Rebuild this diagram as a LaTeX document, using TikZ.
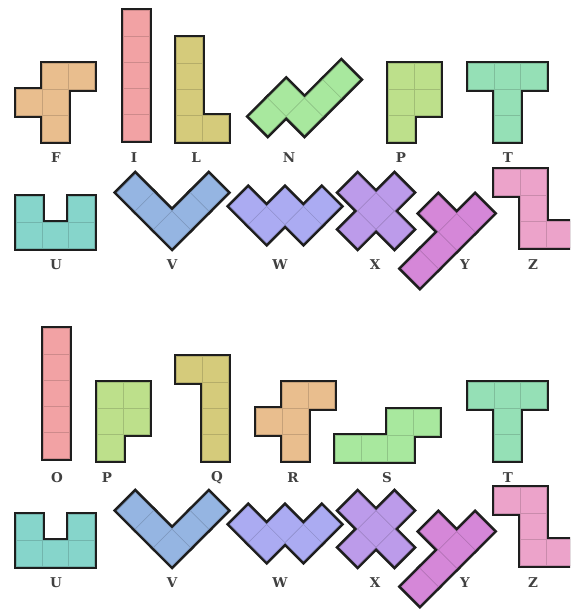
\documentclass[tikz,border=0pt]{standalone}
\usepackage{fontspec}
\setmainfont{DejaVu Serif}

\definecolor{coulF}{HTML}{E9BE8E}
\definecolor{coulI}{HTML}{F2A2A4}
\definecolor{coulL}{HTML}{D5CB7B}
\definecolor{coulN}{HTML}{A8E89E}
\definecolor{coulP}{HTML}{BDE08B}
\definecolor{coulT}{HTML}{95E0B6}
\definecolor{coulU}{HTML}{86D5CB}
\definecolor{coulV}{HTML}{95B5E2}
\definecolor{coulW}{HTML}{ABABF2}
\definecolor{coulX}{HTML}{BC9BEA}
\definecolor{coulY}{HTML}{D587D8}
\definecolor{coulZ}{HTML}{ECA3CA}
\definecolor{encre}{HTML}{1E1E1E}

% Une pièce : #1 couleur, #2 liste des cases (colonne/ligne)
\newcommand{\penta}[2]{%
  \foreach \cx/\cy in {#2}
    \fill[contour] (\cx-.11,\cy-.11) -- ++(1.22,0) -- ++(0,1.22) -- ++(-1.22,0) -- cycle;
  \foreach \cx/\cy in {#2}
    \filldraw[fill=#1, draw=#1!85!black, line width=.5pt] (\cx,\cy) -- ++(1,0) -- ++(0,1) -- ++(-1,0) -- cycle;
}

\begin{document}
\begin{tikzpicture}[
    x=1pt, y=-1pt,  % coordonnées en pixels, vers le bas
    contour/.style={fill=encre},
    droit/.style={x=26pt, y=-26pt},  % pièce posée droite
    biais/.style={x={(18.385pt,18.385pt)}, y={(18.385pt,-18.385pt)}}, % pièce tournée de 45°
    lettre/.style={text=black!75, font=\fontsize{13.5}{15}\selectfont\bfseries, inner sep=0pt}
]
\clip (0,0) rectangle (570,610);

% Première série : F I L N P T
\begin{scope}[shift={(16.5,63.5)},droit] \penta{coulF}{1/0,2/0,0/1,1/1,1/2} \end{scope}
\begin{scope}[shift={(123.5,10.5)},droit] \penta{coulI}{0/0,0/1,0/2,0/3,0/4} \end{scope}
\begin{scope}[shift={(176.5,37.5)},droit] \penta{coulL}{0/0,0/1,0/2,0/3,1/3} \end{scope}
\begin{scope}[shift={(249.4,116.4)},biais] \penta{coulN}{0/0,1/0,1/1,2/1,3/1} \end{scope}
\begin{scope}[shift={(388.5,63.5)},droit] \penta{coulP}{0/0,1/0,0/1,1/1,0/2} \end{scope}
\begin{scope}[shift={(468.5,63.5)},droit] \penta{coulT}{0/0,1/0,2/0,1/1,1/2} \end{scope}
\node[lettre] (nF) at (56,158) {F};
\node[lettre] (nI) at (134,158) {I};
\node[lettre] (nL) at (196,158) {L};
\node[lettre] (nN) at (289,158) {N};
\node[lettre] (nP) at (401,158) {P};
\node[lettre] (nT) at (508,158) {T};

% U V W X Y Z
\begin{scope}[shift={(16.5,196.5)},droit] \penta{coulU}{0/0,2/0,0/1,1/1,2/1} \end{scope}
\begin{scope}[shift={(116.9,192.6)},biais] \penta{coulV}{0/0,0/1,0/2,1/2,2/2} \end{scope}
\begin{scope}[shift={(229.9,206.3)},biais] \penta{coulW}{0/0,0/1,1/1,1/2,2/2} \end{scope}
\begin{scope}[shift={(320.9,211)},biais] \penta{coulX}{1/0,0/1,1/1,2/1,1/2} \end{scope}
\begin{scope}[shift={(383.2,250.2)},biais] \penta{coulY}{0/1,1/1,2/1,3/1,2/0} \end{scope}
\begin{scope}[shift={(494.5,169.5)},droit] \penta{coulZ}{0/0,1/0,1/1,1/2,2/2} \end{scope}
\node[lettre] (nU) at (56,265) {U};
\node[lettre] (nV) at (172,265) {V};
\node[lettre] (nW) at (280,265) {W};
\node[lettre] (nX) at (375,265) {X};
\node[lettre] (nY) at (465,265) {Y};
\node[lettre] (nZ) at (533,265) {Z};

% Seconde série : O P Q R S T
\begin{scope}[shift={(43.5,328.5)},droit] \penta{coulI}{0/0,0/1,0/2,0/3,0/4} \end{scope}
\begin{scope}[shift={(97.5,382.5)},droit] \penta{coulP}{0/0,1/0,0/1,1/1,0/2} \end{scope}
\begin{scope}[shift={(176.5,356.5)},droit] \penta{coulL}{0/0,1/0,1/1,1/2,1/3} \end{scope}
\begin{scope}[shift={(256.5,382.5)},droit] \penta{coulF}{1/0,2/0,0/1,1/1,1/2} \end{scope}
\begin{scope}[shift={(335.5,409.5)},droit] \penta{coulN}{0/1,1/1,2/1,2/0,3/0} \end{scope}
\begin{scope}[shift={(468.5,382.5)},droit] \penta{coulT}{0/0,1/0,2/0,1/1,1/2} \end{scope}
\node[lettre] (nO) at (57,478) {O};
\node[lettre] (nP2) at (107,478) {P};
\node[lettre] (nQ) at (217,478) {Q};
\node[lettre] (nR) at (293,478) {R};
\node[lettre] (nS) at (387,478) {S};
\node[lettre] (nT2) at (508,478) {T};

% U V W X Y Z (bis)
\begin{scope}[shift={(16.5,514.5)},droit] \penta{coulU}{0/0,2/0,0/1,1/1,2/1} \end{scope}
\begin{scope}[shift={(116.9,510.6)},biais] \penta{coulV}{0/0,0/1,0/2,1/2,2/2} \end{scope}
\begin{scope}[shift={(229.9,524.3)},biais] \penta{coulW}{0/0,0/1,1/1,1/2,2/2} \end{scope}
\begin{scope}[shift={(320.9,529)},biais] \penta{coulX}{1/0,0/1,1/1,2/1,1/2} \end{scope}
\begin{scope}[shift={(383.2,568.2)},biais] \penta{coulY}{0/1,1/1,2/1,3/1,2/0} \end{scope}
\begin{scope}[shift={(494.5,487.5)},droit] \penta{coulZ}{0/0,1/0,1/1,1/2,2/2} \end{scope}
\node[lettre] (nU2) at (56,583) {U};
\node[lettre] (nV2) at (172,583) {V};
\node[lettre] (nW2) at (280,583) {W};
\node[lettre] (nX2) at (375,583) {X};
\node[lettre] (nY2) at (465,583) {Y};
\node[lettre] (nZ2) at (533,583) {Z};
\end{tikzpicture}
\end{document}
